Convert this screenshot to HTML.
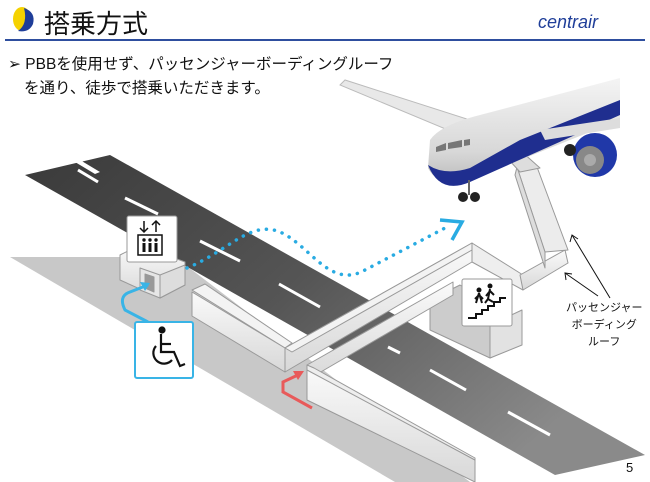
<!DOCTYPE html>
<html><head><meta charset="utf-8"><style>
html,body{margin:0;padding:0;background:#fff;}
body{width:650px;height:482px;overflow:hidden;position:relative;font-family:"Liberation Sans","Noto Sans CJK JP",sans-serif;}
.t{position:absolute;white-space:nowrap;color:#111;}
</style></head><body>
<svg width="650" height="482" viewBox="0 0 650 482" style="position:absolute;left:0;top:0">
<defs>
<linearGradient id="road" x1="0" y1="0" x2="1" y2="0.6">
<stop offset="0" stop-color="#3a3a3a"/><stop offset="0.5" stop-color="#555"/><stop offset="1" stop-color="#8a8a8a"/></linearGradient>
<linearGradient id="face" x1="0" y1="0" x2="0" y2="1"><stop offset="0" stop-color="#fafafa"/><stop offset="1" stop-color="#d8d8d8"/></linearGradient>
<linearGradient id="fus" x1="0" y1="0" x2="0" y2="1"><stop offset="0" stop-color="#f4f4f4"/><stop offset="0.7" stop-color="#d8d8d8"/><stop offset="1" stop-color="#bbb"/></linearGradient>
</defs>
<ellipse cx="22" cy="19" rx="9" ry="12" fill="#f5d200"/>
<path d="M24 8 Q36 12 33 24 Q29 33 18 31 Q28 24 24 8Z" fill="#1f3e99"/>
<line x1="5" y1="40" x2="645" y2="40" stroke="#2e4e9e" stroke-width="2"/>
<polygon points="10,257 175,257 470,482 395,482" fill="#c8c8c8"/>
<polygon points="25,175 110,155 645,455 555,475" fill="url(#road)"/>
<polygon points="55,150 60,148 100,172 95,174" fill="#fff"/>
<g stroke="#fff" stroke-width="3">
<line x1="78" y1="170" x2="98" y2="182"/>
<line x1="125" y1="198" x2="158" y2="214"/>
<line x1="200" y1="241" x2="240" y2="261"/>
<line x1="279" y1="284" x2="320" y2="307"/>
<line x1="388" y1="347" x2="400" y2="353"/>
<line x1="430" y1="370" x2="466" y2="390"/>
<line x1="508" y1="412" x2="550" y2="435"/>
</g>
<g stroke="#999" stroke-width="1" stroke-linejoin="round">
<polygon points="120,255 140,245 185,262 185,285 160,298 120,280" fill="url(#face)"/>
<polygon points="140,268 160,275 160,298 140,290" fill="#e6e6e6"/>
<polygon points="160,275 185,265 185,285 160,298" fill="#ddd"/>
<polygon points="145,274 154,277 154,292 145,288" fill="#999"/>
<polygon points="192,290 205,284 292,343 285,348" fill="#f3f3f3"/>
<polygon points="192,292 285,348 285,372 192,316" fill="url(#face)"/>
<polygon points="285,348 472,243 472,262 285,372" fill="url(#face)"/>
<polygon points="285,348 292,352 472,250 472,243" fill="#f3f3f3"/>
<polygon points="430,300 460,285 520,320 520,345 490,358 430,330" fill="#ccc"/>
<polygon points="490,325 522,310 522,345 490,358" fill="#e2e2e2"/>
<polygon points="472,243 523,275 523,290 472,262" fill="#eee"/>
<polygon points="307,365 453,282 453,295 307,380" fill="url(#face)"/>
<polygon points="307,368 475,460 475,482 307,400" fill="url(#face)"/>
<polygon points="307,365 314,368 475,458 475,460 307,370" fill="#eee"/>
<polygon points="520,275 565,250 568,263 523,290" fill="url(#face)"/>
<polygon points="517,167 537,167 568,250 545,252" fill="#ececec"/>
<polygon points="517,167 545,252 545,268 515,175" fill="#ddd"/>
<polygon points="498,148 512,143 540,168 520,172" fill="#ddd"/>
</g>
<polygon points="340,85 345,80 470,120 460,135" fill="#e8e8e8" stroke="#bbb"/>
<path d="M430,140 Q440,125 480,115 L620,78 L620,120 L470,180 Q440,190 428,168 Z" fill="url(#fus)"/>
<path d="M428,165 Q440,195 470,182 L620,115 L620,100 L520,140 L470,168 Q445,176 428,165Z" fill="#1f2e8f"/>
<polygon points="540,130 620,118 620,128 545,140" fill="#ddd"/>
<polygon points="436,147 446,143 446,150 436,152" fill="#777"/>
<polygon points="448,143 462,140 462,147 448,149" fill="#777"/>
<polygon points="464,140 470,139 470,145 464,146" fill="#777"/>
<circle cx="595" cy="155" r="22" fill="#2038a8"/>
<circle cx="590" cy="160" r="14" fill="#888"/>
<circle cx="590" cy="160" r="6" fill="#aaa"/>
<circle cx="570" cy="150" r="6" fill="#222"/>
<circle cx="463" cy="197" r="5" fill="#222"/><circle cx="475" cy="197" r="5" fill="#222"/>
<line x1="469" y1="180" x2="469" y2="195" stroke="#666" stroke-width="2"/>
<path d="M187,268 C230,250 250,220 280,232 C310,245 330,290 365,270 L445,228" fill="none" stroke="#29abe2" stroke-width="3.5" stroke-dasharray="0.1 8" stroke-linecap="round"/>
<polyline points="440,220 462,222 452,240" fill="none" stroke="#29abe2" stroke-width="3.5"/>
<path d="M148,322 L125,310 Q118,296 130,292 L148,285" fill="none" stroke="#39b4e6" stroke-width="3"/>
<polygon points="150,283 140,282 145,291" fill="#39b4e6"/>
<path d="M312,408 L283,392 L283,382 L300,374" fill="none" stroke="#e85a5a" stroke-width="3"/>
<polygon points="304,371 293,371 298,380" fill="#e85a5a"/>
<rect x="127" y="216" width="50" height="46" rx="2" fill="#fff" stroke="#999"/>
<g stroke="#111" stroke-width="1.5" fill="none">
<line x1="144" y1="221" x2="144" y2="232"/><polyline points="140,228 144,232 148,228"/>
<line x1="156" y1="221" x2="156" y2="232"/><polyline points="152,225 156,221 160,225"/>
<rect x="138" y="235" width="24" height="20"/>
</g>
<g fill="#111"><circle cx="144" cy="240" r="1.7"/><circle cx="150" cy="240" r="1.7"/><circle cx="156" cy="240" r="1.7"/>
<rect x="142.5" y="243" width="3" height="9"/><rect x="148.5" y="243" width="3" height="9"/><rect x="154.5" y="243" width="3" height="9"/></g>
<rect x="135" y="322" width="58" height="56" rx="2" fill="#fff" stroke="#39b4e6" stroke-width="2"/>
<g stroke="#111" stroke-width="2.2" fill="none">
<circle cx="162" cy="330" r="2.5" fill="#111"/>
<path d="M161,334 L161,352 L174,352 L180,366 L185,364"/>
<line x1="161" y1="344" x2="171" y2="344"/>
<path d="M156,346 A10,10 0 1 0 172,360"/>
</g>
<rect x="462" y="279" width="50" height="47" rx="2" fill="#fff" stroke="#999"/>
<g fill="#111" stroke="#111">
<polyline points="468,318 476,318 476,314 482,314 482,310 488,310 488,306 494,306 494,302 500,302 500,298 506,298" fill="none" stroke-width="2"/>
<circle cx="479" cy="290" r="2"/><circle cx="490" cy="286" r="2"/>
<path d="M479,293 L476,303 M479,293 L482,303 M479,295 L475,299 M479,295 L483,299" stroke-width="2"/>
<path d="M490,289 L488,299 L485,303 M488,299 L493,302 M490,291 L494,295 M490,291 L486,296" stroke-width="2" fill="none"/>
</g>
<g stroke="#111" stroke-width="1" fill="none">
<line x1="610" y1="298" x2="572" y2="235"/><polyline points="570,242 572,235 578,239"/>
<line x1="598" y1="296" x2="565" y2="273"/><polyline points="566,280 565,273 572,274"/>
</g>
</svg>
<div class="t" style="left:44px;top:4px;font-size:26px;">搭乗方式</div>
<div class="t" style="left:538px;top:12px;font-size:18px;font-style:italic;color:#1f3e99;">centrair</div>
<div class="t" style="left:8px;top:52px;font-size:15.5px;">➢ PBBを使用せず、パッセンジャーボーディングルーフ</div>
<div class="t" style="left:24px;top:76px;font-size:15.5px;">を通り、徒歩で搭乗いただきます。</div>
<div class="t" style="left:566px;top:300px;font-size:11px;line-height:17px;text-align:center;">パッセンジャー<br>ボーディング<br>ルーフ</div>
<div class="t" style="left:626px;top:460px;font-size:13px;">5</div>
</body></html>
